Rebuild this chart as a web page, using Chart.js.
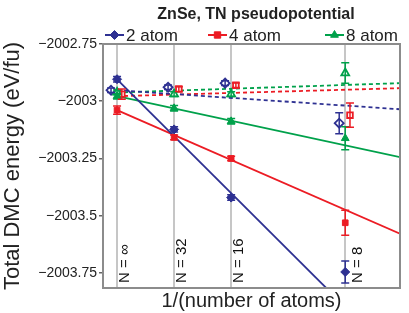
<!DOCTYPE html>
<html><head><meta charset="utf-8">
<script src="https://cdn.jsdelivr.net/npm/chart.js@4"></script>
<style>html,body{margin:0;padding:0;background:#fff}#wrap{width:409px;height:313px}</style>
</head><body><div id="wrap"><canvas id="c" width="409" height="313"></canvas></div>
<script>
// ---- data ----
const chartTitle = 'ZnSe, TN pseudopotential';
const seriesNames = ['2 atom', '4 atom', '8 atom'];
const nLabels = ['N = \u221E', 'N = 32', 'N = 16', 'N = 8'];
const invN = [0, 1/32, 1/16, 1/8];
const yTicks = [-2003.75, -2003.5, -2003.25, -2003, -2002.75];

// filled symbols (solid-line fits)
const blueFilled = [-2002.904, -2003.123, -2003.421, -2003.746];
const blueFilledErr = [0.012, 0.012, 0.012, 0.048];
const redFilled = [-2003.039, -2003.158, -2003.250, -2003.531];
const redFilledErr = [0.018, 0.010, 0.010, 0.055];
const greenFilled = [-2002.978, -2003.031, -2003.088, -2003.162];
const greenFilledErr = [0.012, 0.012, 0.012, 0.050];
// open symbols (dashed-line fits)
const blueOpen = [-2002.952, -2002.939, -2002.921, -2003.096];
const blueOpenErr = [0.010, 0.010, 0.010, 0.046];
const redOpen = [-2002.969, -2002.947, -2002.930, -2003.061];
const redOpenErr = [0.022, 0.010, 0.010, 0.053];
const greenOpen = [-2002.961, -2002.969, -2002.969, -2002.877];
const greenOpenErr = [0.010, 0.010, 0.010, 0.045];
// fit lines: values at 1/N = 0 and 1/N = 0.155
const fitX = [0, 0.155];
const blueSolid = [-2002.905, -2004.137];
const redSolid = [-2003.039, -2003.579];
const greenSolid = [-2002.978, -2003.244];
const blueDashed = [-2002.952, -2003.035];
const redDashed = [-2002.978, -2002.943];
const greenDashed = [-2002.962, -2002.921];

// ---- styles ----
const BLUE = '#2e3192', RED = '#ec1c24', GREEN = '#00a14b';
const FONT = "'Liberation Sans', Arial, sans-serif";

function pts(xs, ys, dx) { return xs.map((x, i) => ({x: x + (dx || 0), y: ys[i]})); }

function lineDs(ys, color, dashed) {
  return {type: 'line', data: pts(fitX, ys), borderColor: color, borderWidth: 1.8,
    borderDash: dashed ? [4, 3] : [], pointRadius: 0, fill: false, tension: 0, clip: 0, order: 2};
}
function pointDs(ys, errs, color, style, open, dx) {
  return {type: 'scatter', data: pts(invN, ys, dx), errs: errs, showLine: false,
    pointStyle: style, pointRadius: style === 'rect' ? 4 : 4.5,
    backgroundColor: open ? '#ffffff' : color, borderColor: color,
    pointBorderWidth: open ? 1.8 : 1, order: 1};
}

const datasets = [
  lineDs(blueSolid, BLUE, false), lineDs(redSolid, RED, false), lineDs(greenSolid, GREEN, false),
  lineDs(blueDashed, BLUE, true), lineDs(redDashed, RED, true), lineDs(greenDashed, GREEN, true),
  pointDs(greenFilled, greenFilledErr, GREEN, 'triangle', false, 0),
  pointDs(redFilled, redFilledErr, RED, 'rect', false, 0),
  pointDs(blueFilled, blueFilledErr, BLUE, 'rectRot', false, 0),
  pointDs(greenOpen, greenOpenErr, GREEN, 'triangle', true, 0),
  pointDs(redOpen, redOpenErr, RED, 'rect', true, 0.0026),
  pointDs(blueOpen, blueOpenErr, BLUE, 'rectRot', true, -0.0033)
];

const errorBars = {
  id: 'errorBars',
  beforeDatasetsDraw(chart) {
    const ctx = chart.ctx, xs = chart.scales.x;
    const a = chart.chartArea;
    ctx.save();
    ctx.fillStyle = '#111';
    ctx.font = '15px ' + FONT;
    ctx.textAlign = 'left'; ctx.textBaseline = 'middle';
    invN.forEach((v, i) => {
      const px = xs.getPixelForValue(v) + (i === 3 ? 13 : 8);
      ctx.save(); ctx.translate(px, a.bottom - 5); ctx.rotate(-Math.PI / 2);
      ctx.fillText(nLabels[i], 0, 0); ctx.restore();
    });
    ctx.restore();
  },
  afterDatasetsDraw(chart) {
    const ctx = chart.ctx, ys = chart.scales.y, xs = chart.scales.x;
    chart.data.datasets.forEach(ds => {
      if (!ds.errs) return;
      ctx.save();
      ctx.strokeStyle = ds.borderColor; ctx.lineWidth = 1.5;
      ds.data.forEach((p, i) => {
        const px = xs.getPixelForValue(p.x);
        const y1 = ys.getPixelForValue(p.y + ds.errs[i]);
        const y2 = ys.getPixelForValue(p.y - ds.errs[i]);
        ctx.beginPath();
        ctx.moveTo(px, y1); ctx.lineTo(px, y2);
        ctx.moveTo(px - 4, y1); ctx.lineTo(px + 4, y1);
        ctx.moveTo(px - 4, y2); ctx.lineTo(px + 4, y2);
        ctx.stroke();
      });
      ctx.restore();
    });
  },
  afterDraw(chart) {
    const ctx = chart.ctx, a = chart.chartArea;
    ctx.save();
    ctx.strokeStyle = '#8c8c8c'; ctx.lineWidth = 2;
    ctx.strokeRect(a.left, a.top, a.right - a.left, a.bottom - a.top);
    ctx.fillStyle = '#222';
    ctx.font = 'bold 16px ' + FONT;
    ctx.textAlign = 'center'; ctx.textBaseline = 'middle';
    ctx.fillText(chartTitle, 256, 15);
    const items = [
      {x: 105, color: BLUE, style: 'rectRot'},
      {x: 208, color: RED, style: 'rect'},
      {x: 325, color: GREEN, style: 'triangle'}
    ];
    ctx.font = '17px ' + FONT;
    ctx.textAlign = 'left';
    items.forEach((it, i) => {
      const y = 35;
      ctx.strokeStyle = it.color; ctx.lineWidth = 2;
      ctx.beginPath(); ctx.moveTo(it.x, y); ctx.lineTo(it.x + 19, y); ctx.stroke();
      ctx.fillStyle = it.color; ctx.lineWidth = 1;
      Chart.helpers.drawPoint(ctx, {pointStyle: it.style, radius: 4.5, borderWidth: 1}, it.x + 9.5, y);
      ctx.fillStyle = '#222';
      ctx.fillText(seriesNames[i], it.x + 21, y + 1);
    });
    ctx.restore();
  }
};

new Chart(document.getElementById('c'), {
  type: 'scatter',
  data: {datasets: datasets},
  options: {
    responsive: false, animation: false,
    layout: {padding: {top: 44, right: 9, left: 0, bottom: 0}},
    plugins: {legend: {display: false}, tooltip: {enabled: false}, title: {display: false}},
    scales: {
      x: {
        type: 'linear', min: -0.0077, max: 0.155,
        afterBuildTicks: s => { s.ticks = invN.map(v => ({value: v})); },
        afterFit: s => { s.height = 25; },
        ticks: {display: false},
        grid: {color: '#c6c6c6', lineWidth: 2, drawTicks: false},
        border: {display: false},
        title: {display: true, text: '1/(number of atoms)', color: '#222',
          font: {family: FONT, size: 20}, padding: {top: 0, bottom: 0}}
      },
      y: {
        type: 'linear', min: -2003.816, max: -2002.75,
        afterBuildTicks: s => { s.ticks = yTicks.map(v => ({value: v})); },
        afterFit: s => { s.width = 103; },
        ticks: {color: '#222', padding: 2, font: {family: FONT, size: 14},
          callback: v => '\u2212' + String(Math.abs(v))},
        grid: {drawOnChartArea: false, drawTicks: true, tickLength: 4, color: '#666', lineWidth: 1.5},
        border: {display: false},
        title: {display: true, text: 'Total DMC energy (eV/fu)', color: '#222',
          font: {family: FONT, size: 22}, padding: {top: 0, bottom: 0}}
      }
    }
  },
  plugins: [errorBars]
});
</script>
</body></html>
